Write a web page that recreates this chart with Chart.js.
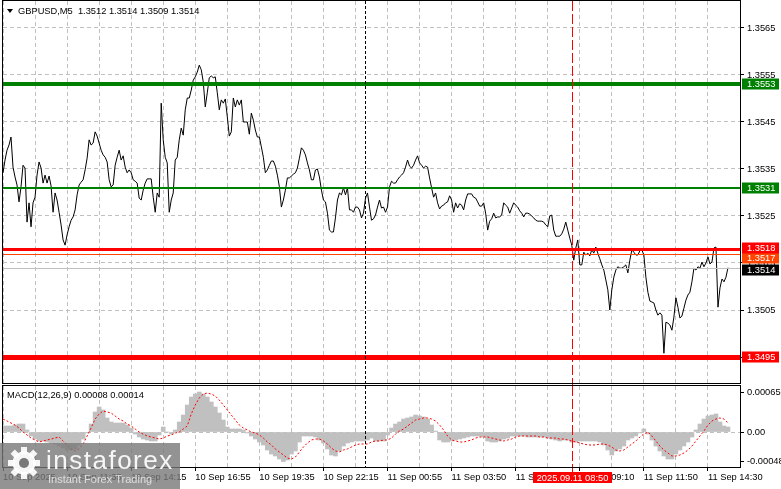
<!DOCTYPE html>
<html>
<head>
<meta charset="utf-8">
<script src="https://cdn.jsdelivr.net/npm/chart.js@4.4.1/dist/chart.umd.min.js"></script>
<style>
html, body { margin: 0; padding: 0; background: #fff; }
#wrap { position: relative; width: 781px; height: 489px; overflow: hidden; }
#price { position: absolute; left: 0; top: 0; }
#macd { position: absolute; left: 0; top: 385px; }
</style>
</head>
<body>
<div id="wrap">
  <canvas id="price" width="781" height="385" style="width:781px;height:385px"></canvas>
  <canvas id="macd" width="781" height="104" style="width:781px;height:104px"></canvas>
</div>
<script>
// GBPUSD M5 closes, one per bar
var closes = [
  1.35342,1.35369,1.35390,1.35401,1.35418,1.35354,1.35333,1.35316,1.35280,1.35312,
  1.35358,1.35352,1.35237,1.35278,1.35227,1.35278,1.35290,1.35337,1.35365,1.35352,
  1.35320,1.35337,1.35320,1.35335,1.35314,1.35258,1.35299,1.35284,1.35258,1.35231,
  1.35199,1.35188,1.35210,1.35227,1.35241,1.35248,1.35263,1.35295,1.35316,1.35322,
  1.35327,1.35348,1.35373,1.35412,1.35401,1.35405,1.35429,1.35420,1.35405,1.35390,
  1.35380,1.35375,1.35365,1.35327,1.35312,1.35316,1.35358,1.35375,1.35390,1.35369,
  1.35378,1.35354,1.35342,1.35348,1.35342,1.35327,1.35324,1.35320,1.35288,1.35284,
  1.35305,1.35320,1.35329,1.35329,1.35329,1.35290,1.35258,1.35299,1.35290,1.35490,
  1.35412,1.35375,1.35363,1.35258,1.35284,1.35299,1.35369,1.35375,1.35412,1.35437,
  1.35422,1.35476,1.35501,1.35501,1.35518,1.35539,1.35546,1.35556,1.35571,1.35561,
  1.35535,1.35482,1.35512,1.35544,1.35548,1.35544,1.35546,1.35512,1.35476,1.35497,
  1.35490,1.35499,1.35461,1.35420,1.35429,1.35501,1.35482,1.35497,1.35486,1.35497,
  1.35450,1.35450,1.35450,1.35424,1.35469,1.35454,1.35433,1.35418,1.35418,1.35397,
  1.35375,1.35342,1.35348,1.35358,1.35367,1.35367,1.35356,1.35337,1.35312,1.35269,
  1.35284,1.35305,1.35331,1.35331,1.35335,1.35339,1.35342,1.35352,1.35373,1.35395,
  1.35390,1.35380,1.35363,1.35348,1.35327,1.35327,1.35348,1.35350,1.35333,1.35305,
  1.35284,1.35280,1.35256,1.35220,1.35216,1.35216,1.35246,1.35284,1.35299,1.35295,
  1.35310,1.35295,1.35310,1.35263,1.35263,1.35258,1.35269,1.35269,1.35263,1.35246,
  1.35256,1.35288,1.35299,1.35269,1.35241,1.35244,1.35252,1.35269,1.35284,1.35267,
  1.35269,1.35258,1.35269,1.35312,1.35324,1.35320,1.35320,1.35327,1.35333,1.35337,
  1.35342,1.35354,1.35369,1.35356,1.35352,1.35358,1.35369,1.35378,1.35363,1.35358,
  1.35352,1.35356,1.35354,1.35331,1.35310,1.35290,1.35299,1.35278,1.35265,1.35271,
  1.35273,1.35278,1.35280,1.35293,1.35284,1.35258,1.35278,1.35267,1.35276,1.35273,
  1.35263,1.35284,1.35297,1.35297,1.35297,1.35290,1.35288,1.35280,1.35271,1.35271,
  1.35278,1.35256,1.35220,1.35239,1.35244,1.35256,1.35246,1.35248,1.35248,1.35252,
  1.35278,1.35273,1.35269,1.35256,1.35267,1.35278,1.35273,1.35269,1.35261,1.35256,
  1.35248,1.35256,1.35256,1.35254,1.35250,1.35246,1.35241,1.35239,1.35239,1.35239,
  1.35237,1.35231,1.35227,1.35250,1.35252,1.35220,1.35207,1.35207,1.35207,1.35212,
  1.35222,1.35237,1.35220,1.35203,1.35188,1.35156,1.35182,1.35199,1.35146,1.35146,
  1.35173,1.35167,1.35171,1.35165,1.35178,1.35171,1.35184,1.35171,1.35159,1.35146,
  1.35135,1.35114,1.35093,1.35050,1.35093,1.35120,1.35135,1.35142,1.35139,1.35139,
  1.35142,1.35146,1.35129,1.35156,1.35178,1.35173,1.35167,1.35167,1.35176,1.35178,
  1.35167,1.35120,1.35088,1.35069,1.35067,1.35065,1.35050,1.35039,1.35044,1.35039,
  1.34958,1.35024,1.35022,1.35018,1.35007,1.35035,1.35076,1.35056,1.35033,1.35037,
  1.35054,1.35071,1.35082,1.35088,1.35110,1.35139,1.35135,1.35142,1.35139,1.35152,
  1.35142,1.35150,1.35163,1.35148,1.35152,1.35182,1.35184,1.35056,1.35097,1.35116,
  1.35110,1.35120,1.35140
];

// MACD(12,26,9), one value every second bar
var macdHist = [
  0.000098,0.000098,0.000098,0.000114,0.000130,0.000130,0.000033,-0.000065,-0.000114,-0.000146,
  -0.000146,-0.000163,-0.000179,-0.000195,-0.000228,-0.000260,-0.000293,-0.000293,-0.000276,-0.000211,
  -0.000114,-0.000016,0.000130,0.000325,0.000407,0.000358,0.000228,0.000163,0.000146,0.000146,
  0.000146,0.000114,0.000065,-0.000033,-0.000081,-0.000114,-0.000130,-0.000146,-0.000146,-0.000049,
  0.000081,0,-0.000033,0.000033,0.000163,0.000276,0.000439,0.000569,0.000618,0.000650,
  0.000618,0.000569,0.000488,0.000407,0.000309,0.000195,0.000081,0.000049,0.000049,0.000049,
  0.000033,-0.000016,-0.000065,-0.000114,-0.000163,-0.000211,-0.000293,-0.000358,-0.000390,-0.000439,
  -0.000480,-0.000455,-0.000358,-0.000309,-0.000163,-0.000065,-0.000065,-0.000065,-0.000081,-0.000130,
  -0.000179,-0.000276,-0.000374,-0.000390,-0.000309,-0.000228,-0.000179,-0.000163,-0.000146,-0.000146,
  -0.000146,-0.000130,-0.000098,-0.000146,-0.000146,-0.000146,-0.000049,0.000065,0.000130,0.000163,
  0.000211,0.000228,0.000244,0.000276,0.000260,0.000244,0.000211,0.000114,0.000016,-0.000130,
  -0.000163,-0.000163,-0.000146,-0.000130,-0.000114,-0.000098,-0.000081,-0.000065,-0.000065,-0.000065,
  -0.000081,-0.000146,-0.000163,-0.000163,-0.000146,-0.000114,-0.000098,-0.000065,-0.000065,-0.000065,
  -0.000065,-0.000081,-0.000081,-0.000081,-0.000081,-0.000081,-0.000098,-0.000114,-0.000130,-0.000146,
  -0.000130,-0.000130,-0.000163,-0.000163,-0.000146,-0.000146,-0.000146,-0.000146,-0.000146,-0.000163,
  -0.000211,-0.000293,-0.000374,-0.000309,-0.000276,-0.000228,-0.000130,-0.000098,-0.000065,-0.000016,
  0.000049,-0.000033,-0.000130,-0.000228,-0.000309,-0.000390,-0.000439,-0.000439,-0.000358,-0.000293,
  -0.000228,-0.000163,-0.000081,0.000033,0.000130,0.000211,0.000260,0.000276,0.000293,0.000163,
  0.000098,0.000081
];
var macdSignal = [
  0.000211,0.000179,0.000146,0.000114,0.000065,0,-0.000049,-0.000098,-0.000130,-0.000163,
  -0.000146,-0.000130,-0.000114,-0.000098,-0.000081,-0.000146,-0.000211,-0.000276,-0.000309,-0.000276,
  -0.000195,-0.000065,0.000065,0.000211,0.000293,0.000341,0.000325,0.000309,0.000260,0.000211,
  0.000179,0.000130,0.000098,0.000049,0,-0.000033,-0.000065,-0.000081,-0.000098,-0.000114,
  -0.000098,-0.000065,-0.000049,-0.000016,0,0.000049,0.000098,0.000293,0.000439,0.000553,
  0.000618,0.000634,0.000618,0.000585,0.000520,0.000439,0.000358,0.000276,0.000195,0.000114,
  0.000065,0.000033,0,-0.000016,-0.000049,-0.000098,-0.000163,-0.000211,-0.000276,-0.000325,
  -0.000374,-0.000423,-0.000439,-0.000407,-0.000325,-0.000244,-0.000179,-0.000130,-0.000114,-0.000114,
  -0.000146,-0.000195,-0.000260,-0.000309,-0.000325,-0.000293,-0.000276,-0.000244,-0.000211,-0.000195,
  -0.000195,-0.000195,-0.000163,-0.000146,-0.000146,-0.000130,-0.000130,-0.000098,-0.000033,0.000016,
  0.000049,0.000098,0.000146,0.000195,0.000211,0.000228,0.000228,0.000211,0.000179,0.000114,
  0.000033,-0.000065,-0.000130,-0.000146,-0.000163,-0.000163,-0.000146,-0.000130,-0.000098,-0.000081,
  -0.000081,-0.000081,-0.000098,-0.000114,-0.000130,-0.000146,-0.000130,-0.000114,-0.000081,-0.000065,
  -0.000065,-0.000065,-0.000065,-0.000065,-0.000081,-0.000081,-0.000098,-0.000098,-0.000098,-0.000114,
  -0.000114,-0.000130,-0.000146,-0.000163,-0.000179,-0.000195,-0.000211,-0.000211,-0.000211,-0.000195,
  -0.000195,-0.000211,-0.000244,-0.000293,-0.000309,-0.000293,-0.000244,-0.000195,-0.000146,-0.000081,
  -0.000033,0,-0.000065,-0.000146,-0.000228,-0.000293,-0.000341,-0.000390,-0.000390,-0.000374,
  -0.000341,-0.000293,-0.000228,-0.000146,-0.000065,0.000016,0.000114,0.000179,0.000211,0.000228,
  0.000211,0.000146
];

var priceTicks = [1.3495, 1.3505, 1.3515, 1.3525, 1.3535, 1.3545, 1.3555, 1.3565];
var macdTicks = [-0.00048, 0, 0.00065];
var timeLabels = ['10 Sep 2025', '10 Sep 11:35', '10 Sep 14:15', '10 Sep 16:55', '10 Sep 19:35', '10 Sep 22:15',
                  '11 Sep 00:55', '11 Sep 03:50', '11 Sep 06:30', '11 Sep 09:10', '11 Sep 11:50', '11 Sep 14:30'];

// horizontal levels (drawn in this order) and their look
var levels      = [1.3553, 1.3531, 1.3517, 1.3518, 1.3514, 1.3495];
var levelColor  = ['#008000', '#008000', '#ff4500', '#ff0000', '#c0c0c0', '#ff0000'];
var levelWidth  = [4, 2, 1, 3, 1, 5];
var levelTagBg  = ['#008000', '#008000', '#ff4500', '#ff0000', '#000000', '#ff0000'];
var levelTagNudge = [0, 0, 4, -1, 2, 0];   // tags pushed apart where they collide

var titleText = 'GBPUSD,M5  1.3512 1.3514 1.3509 1.3514';
var macdText = 'MACD(12,26,9) 0.00008 0.00014';
var sessionBar = 181;     // black dotted separator
var cursorBar = 284;      // red crosshair
var cursorText = '2025.09.11 08:50';

var xMax = 368;
var GRID = '#c0c0c0';
var FONT = '"Liberation Sans", Arial, sans-serif';

Chart.defaults.font.family = FONT;
Chart.defaults.font.size = 9.3;
Chart.defaults.color = '#000';

function gridTicks(scale) {
    scale.ticks = [];
    for (var v = 0; v <= xMax; v += 16) scale.ticks.push({value: v});
}

// stop the axes from pushing the plot area inwards
function noPad(s) {
    s.paddingTop = 0; s.paddingBottom = 0; s.paddingLeft = 0; s.paddingRight = 0;
}

function drawFrame(chart) {
    var a = chart.chartArea, ctx = chart.ctx;
    ctx.save();
    ctx.strokeStyle = '#000';
    ctx.lineWidth = 1;
    ctx.strokeRect(a.left - 0.5, a.top - 0.5, a.right - a.left + 1, a.bottom - a.top + 1);
    ctx.restore();
}

function vLine(chart, bar, color, dash, bottom) {
    var ctx = chart.ctx, a = chart.chartArea;
    var x = Math.round(chart.scales.x.getPixelForValue(bar)) + 0.5;
    ctx.save();
    ctx.strokeStyle = color;
    ctx.lineWidth = 1;
    ctx.setLineDash(dash);
    ctx.beginPath();
    ctx.moveTo(x, a.top);
    ctx.lineTo(x, bottom || a.bottom);
    ctx.stroke();
    ctx.restore();
    return x;
}

var pricePlugin = {
    id: 'pricePlugin',
    afterDatasetsDraw: function(chart) {
        var ctx = chart.ctx, a = chart.chartArea, ys = chart.scales.y;
        for (var i = 0; i < levels.length; i++) {
            var y = ys.getPixelForValue(levels[i]);
            if (levelWidth[i] % 2) y = Math.round(y) + 0.5; else y = Math.round(y);
            ctx.save();
            ctx.strokeStyle = levelColor[i];
            ctx.lineWidth = levelWidth[i];
            ctx.beginPath();
            ctx.moveTo(a.left, y);
            ctx.lineTo(a.right, y);
            ctx.stroke();
            ctx.restore();
        }
        vLine(chart, sessionBar, '#000', [3, 2]);
        vLine(chart, cursorBar, '#ff0000', [10, 3], chart.height);
    },
    afterDraw: function(chart) {
        var ctx = chart.ctx, a = chart.chartArea, ys = chart.scales.y;
        drawFrame(chart);
        ctx.save();
        ctx.font = '9.3px ' + FONT;
        ctx.textBaseline = 'middle';
        for (var i = 0; i < levels.length; i++) {
            var y = Math.round(ys.getPixelForValue(levels[i])) + levelTagNudge[i];
            ctx.fillStyle = levelTagBg[i];
            ctx.fillRect(a.right + 2, y - 5.5, 37, 11);
            ctx.fillStyle = '#fff';
            ctx.fillText(levels[i].toFixed(4), a.right + 7, y + 0.5);
        }
        // title
        ctx.fillStyle = '#000';
        ctx.beginPath();
        ctx.moveTo(a.left + 4, a.top + 8);
        ctx.lineTo(a.left + 10, a.top + 8);
        ctx.lineTo(a.left + 7, a.top + 12);
        ctx.closePath();
        ctx.fill();
        ctx.fillText(titleText, a.left + 15, a.top + 10);
        ctx.restore();
    }
};

var macdPlugin = {
    id: 'macdPlugin',
    afterDatasetsDraw: function(chart) {
        vLine(chart, sessionBar, '#000', [3, 2]);
        vLine(chart, cursorBar, '#ff0000', [10, 3], chart.chartArea.bottom + 5);
    },
    afterDraw: function(chart) {
        var ctx = chart.ctx, a = chart.chartArea;
        drawFrame(chart);
        ctx.save();
        ctx.font = '9.3px ' + FONT;
        ctx.textBaseline = 'middle';
        ctx.fillStyle = '#000';
        ctx.fillText(macdText, a.left + 4, a.top + 9);

        // crosshair time tag
        var cx = Math.round(chart.scales.x.getPixelForValue(cursorBar)) + 0.5;
        ctx.fillStyle = '#ff0000';
        ctx.fillRect(cx - 39.5, a.bottom + 5, 79, 11);
        ctx.fillStyle = '#fff';
        ctx.textAlign = 'center';
        ctx.fillText(cursorText, cx, a.bottom + 11);
        ctx.textAlign = 'left';

        // watermark
        var top = a.bottom - 24;
        ctx.fillStyle = 'rgba(120,120,120,0.8)';
        ctx.fillRect(0, top, 180, chart.height - top);
        var gx = 24, gy = top + 20;
        ctx.fillStyle = 'rgba(255,255,255,0.92)';
        for (var t = 0; t < 8; t++) {
            ctx.save();
            ctx.translate(gx, gy);
            ctx.rotate(t * Math.PI / 4);
            ctx.fillRect(-3, -16, 6, 7);
            ctx.restore();
        }
        ctx.beginPath();
        ctx.arc(gx, gy, 11.5, 0, Math.PI * 2);
        ctx.fill();
        ctx.fillStyle = 'rgba(120,120,120,1)';
        ctx.beginPath();
        ctx.arc(gx, gy, 5, 0, Math.PI * 2);
        ctx.fill();
        ctx.fillStyle = 'rgba(255,255,255,0.92)';
        ctx.textBaseline = 'alphabetic';
        ctx.font = '26px ' + FONT;
        ctx.letterSpacing = '1.5px';
        ctx.fillText('instaforex', 46, top + 26);
        ctx.letterSpacing = '0px';
        ctx.font = '11px ' + FONT;
        ctx.fillStyle = 'rgba(225,225,225,0.95)';
        ctx.fillText('Instant Forex Trading', 48, top + 40);
        ctx.restore();
    }
};

new Chart(document.getElementById('price'), {
    type: 'line',
    data: {
        datasets: [{
            data: closes.map(function(v, i) { return {x: i, y: v}; }),
            borderColor: '#000',
            borderWidth: 1,
            pointRadius: 0,
            tension: 0,
            fill: false
        }]
    },
    options: {
        responsive: false,
        animation: false,
        devicePixelRatio: 1,
        layout: {padding: {left: 3, top: 1, right: 0, bottom: 2}},
        plugins: {legend: {display: false}, tooltip: {enabled: false}},
        scales: {
            x: {
                type: 'linear', min: 0, max: xMax,
                afterBuildTicks: gridTicks,
                afterFit: function(s) { s.height = 0; noPad(s); },
                ticks: {display: false},
                grid: {color: GRID, drawTicks: false},
                border: {display: false, dash: [4, 3]}
            },
            y: {
                position: 'right',
                min: 1.348947, max: 1.357074,
                afterBuildTicks: function(s) { s.ticks = priceTicks.map(function(v) { return {value: v}; }); },
                afterFit: function(s) { s.width = 41; noPad(s); },
                ticks: {padding: 3, callback: function(v) { return v.toFixed(4); }},
                grid: {color: GRID, tickColor: '#000', tickLength: 4},
                border: {display: false, dash: [4, 3]}
            }
        }
    },
    plugins: [pricePlugin]
});

new Chart(document.getElementById('macd'), {
    type: 'bar',
    data: {
        datasets: [{
            type: 'line',
            order: 0,
            data: macdSignal.map(function(v, k) { return {x: k * 2, y: v}; }),
            borderColor: '#ff0000',
            borderWidth: 1,
            borderDash: [2, 2],
            pointRadius: 0,
            tension: 0,
            fill: false
        }, {
            type: 'bar',
            order: 1,
            data: macdHist.map(function(v, k) { return {x: k * 2, y: v}; }),
            backgroundColor: '#c0c0c0',
            borderWidth: 0,
            barPercentage: 1,
            categoryPercentage: 1
        }]
    },
    options: {
        responsive: false,
        animation: false,
        devicePixelRatio: 1,
        layout: {padding: {left: 3, top: 1, right: 0, bottom: 0}},
        plugins: {legend: {display: false}, tooltip: {enabled: false}},
        scales: {
            x: {
                type: 'linear', min: 0, max: xMax, offset: false,
                afterBuildTicks: gridTicks,
                afterFit: function(s) { s.height = 22; noPad(s); },
                ticks: {
                    autoSkip: false, maxRotation: 0, align: 'start', padding: 1,
                    callback: function(v) { return v % 32 === 0 ? timeLabels[v / 32] : ''; }
                },
                grid: {
                    offset: false, color: GRID, tickLength: 4,
                    tickColor: function(c) { return c.tick && c.tick.value % 32 === 0 ? '#000' : 'rgba(0,0,0,0)'; }
                },
                border: {display: false, dash: [4, 3]}
            },
            y: {
                position: 'right',
                min: -0.000569, max: 0.000748,
                afterBuildTicks: function(s) { s.ticks = macdTicks.map(function(v) { return {value: v}; }); },
                afterFit: function(s) { s.width = 41; noPad(s); },
                ticks: {padding: 3, callback: function(v) { return v === 0 ? '0.00' : v.toFixed(5); }},
                grid: {
                    tickColor: '#000', tickLength: 4,
                    color: function(c) { return c.tick && c.tick.value === 0 ? GRID : 'rgba(0,0,0,0)'; }
                },
                border: {display: false, dash: [4, 3]}
            }
        }
    },
    plugins: [macdPlugin]
});
</script>
</body>
</html>
